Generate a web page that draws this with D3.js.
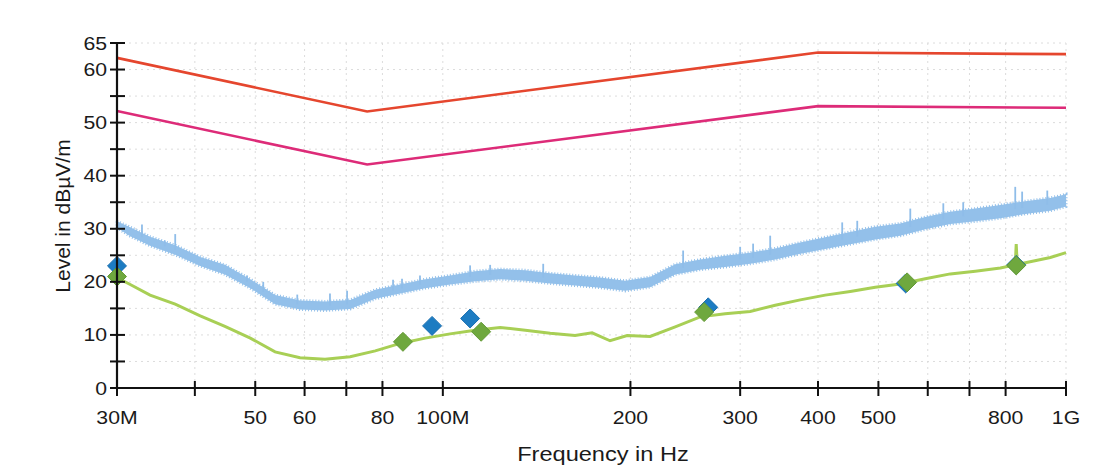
<!DOCTYPE html>
<html>
<head>
<meta charset="utf-8">
<script src="https://cdn.jsdelivr.net/npm/d3@7"></script>
<style>
    body { margin: 0; background: #fff; }
    svg { display: block; }
    text { font-family: Arial, "Liberation Sans", sans-serif; fill: #1a1a1a; }
</style>
</head>
<body>
<svg id="chart" width="1096" height="470"></svg>
<script>

// limit lines (MHz, dB)
const limitFreq = [30, 75.6, 400, 1000]
const limitPeak = [62.2, 52.1, 63.2, 62.9]
const limitAvg = [52.2, 42.1, 53.1, 52.8]

// peak trace, read as a band
const blueFreq = [30, 31.5, 33.9, 37.2, 40.8, 44.7, 49.1, 53.8, 59.0, 64.7, 71.0, 77.9, 85.4, 93.7, 102.7, 112.7, 123.6, 135.6, 148.7, 163,
    178.8, 196.1, 215.1, 236, 258.8, 283.8, 311.3, 341.5, 374.6, 410.8, 450.6, 494.2, 542, 594.5, 652.1, 715.3, 784.6, 860.5, 943.8, 1000]
const blueLow = [30.2, 28.6, 26.8, 25.1, 23.0, 21.4, 18.8, 15.8, 14.8, 14.6, 14.9, 16.8, 17.8, 18.8, 19.5, 20.1, 20.5, 20.2, 19.7, 19.3,
    18.9, 18.3, 19.0, 21.4, 22.3, 22.8, 23.4, 24.2, 25.3, 26.2, 27.1, 28.0, 28.7, 29.9, 30.9, 31.4, 32.0, 32.8, 33.4, 34.2]
const blueHigh = [31.4, 30.3, 28.5, 26.9, 24.7, 23.2, 20.5, 17.5, 16.5, 16.3, 16.6, 18.5, 19.5, 20.5, 21.2, 22.0, 22.4, 22.2, 21.6, 21.2,
    20.8, 20.2, 20.9, 23.3, 24.2, 24.9, 25.5, 26.3, 27.4, 28.4, 29.4, 30.4, 31.0, 32.2, 33.2, 33.8, 34.5, 35.2, 35.8, 36.5]

// single spikes sticking out of the peak band
const spikeFreq = [32.9, 35.8, 37.2, 48.5, 51.5, 58.4, 65.9, 70.2, 83.2, 86.0, 91.9, 110.6, 119.1, 144.9,
    243, 300, 314.7, 335.2, 437.4, 462.4, 562.5, 635.5, 684, 829, 850.4, 933.2]
const spikeTop = [30.8, 27.8, 29.0, 21.2, 20.0, 17.6, 17.8, 18.3, 20.4, 20.6, 21.2, 23.1, 23.2, 23.4,
    25.9, 26.6, 27.2, 28.7, 31.2, 31.5, 33.8, 34.8, 35.0, 37.9, 37.0, 37.2]

// average trace
const greenFreq = [30, 31.5, 33.9, 37.2, 40.8, 44.7, 49.1, 53.8, 59.0, 64.7, 71.0, 77.9, 85.4, 93.7, 102.7, 112.7, 123.6, 135.6, 148.7, 163,
    173.6, 185.5, 197.6, 215.1, 236, 258.8, 283.8, 311.3, 341.5, 374.6, 410.8, 450.6, 494.2, 542, 594.5, 652.1, 715.3, 784.6,
    829, 832, 835, 860.5, 943.8, 1000]
const greenLevel = [20.8, 19.5, 17.5, 15.8, 13.6, 11.6, 9.4, 6.8, 5.7, 5.4, 5.9, 7.0, 8.4, 9.4, 10.2, 10.9, 11.4, 10.9, 10.3, 9.9,
    10.4, 8.9, 9.9, 9.7, 11.5, 13.4, 14.0, 14.4, 15.6, 16.6, 17.5, 18.2, 19.0, 19.6, 20.6, 21.5, 22.0, 22.6,
    23.2, 27.1, 23.3, 23.6, 24.6, 25.5]

// final measurements
const qpFreq = [30, 96.1, 110.6, 266.6, 553, 832]
const qpLevel = [23.0, 11.7, 13.1, 15.2, 19.7, 23.2]
const avFreq = [30, 86.3, 115.2, 262.6, 556, 832]
const avLevel = [21.0, 8.7, 10.6, 14.3, 19.9, 23.1]

const xTicks = [30, 40, 50, 60, 70, 80, 100, 200, 300, 400, 500, 600, 700, 800, 1000]
const xLabels = {30: '30M', 50: '50', 60: '60', 80: '80', 100: '100M', 200: '200', 300: '300', 400: '400', 500: '500', 800: '800', 1000: '1G'}
const yTicks = [0, 5, 10, 15, 20, 25, 30, 35, 40, 45, 50, 55, 60, 65]
const yLabels = [0, 10, 20, 30, 40, 50, 60, 65]


const svg = d3.select('#chart')

const x = d3.scaleLog()
    .domain([30, 1000])
    .range([117, 1066])

const y = d3.scaleLinear()
    .domain([0, 65])
    .range([388, 43])

const zip = (xs, ys) => xs.map((v, i) => [v, ys[i]])

const label = (g, px, py, txt, anchor, size) =>
    g.append('text')
        .attr('transform', `translate(${px},${py}) scale(1.18,1)`)
        .attr('text-anchor', anchor)
        .style('font-size', size + 'px')
        .text(txt)


// faint grid
const grid = svg.append('g')
    .attr('stroke', '#dcdcdc')
    .attr('stroke-width', 1)
    .attr('stroke-dasharray', '2,4')

grid.selectAll('.gx')
    .data(xTicks.slice(1))
    .join('line')
    .attr('x1', d => x(d)).attr('x2', d => x(d))
    .attr('y1', y(65)).attr('y2', y(0))

grid.selectAll('.gy')
    .data(yTicks.slice(1))
    .join('line')
    .attr('x1', x(30)).attr('x2', x(1000))
    .attr('y1', d => y(d)).attr('y2', d => y(d))


const line = d3.line()
    .x(d => x(d[0]))
    .y(d => y(d[1]))

// peak band
const band = d3.area()
    .x(d => x(d[0]))
    .y0(d => y(d[1]))
    .y1(d => y(d[2]))

svg.append('path')
    .datum(blueFreq.map((f, i) => [f, blueLow[i], blueHigh[i]]))
    .attr('d', band)
    .attr('fill', '#93c0ea')
    .attr('stroke', '#93c0ea')
    .attr('stroke-width', 3)
    .attr('stroke-dasharray', '1,2')

const bandMid = d3.scaleLog()
    .domain(blueFreq)
    .range(blueFreq.map((f, i) => (blueLow[i] + blueHigh[i]) / 2))

svg.append('g')
    .selectAll('line')
    .data(zip(spikeFreq, spikeTop))
    .join('line')
    .attr('x1', d => x(d[0])).attr('x2', d => x(d[0]))
    .attr('y1', d => y(bandMid(d[0]))).attr('y2', d => y(d[1]))
    .attr('stroke', '#8fbde9')
    .attr('stroke-width', 1.8)

// average trace
svg.append('path')
    .datum(zip(greenFreq, greenLevel))
    .attr('d', line)
    .attr('fill', 'none')
    .attr('stroke', '#a8cf55')
    .attr('stroke-width', 3)

// limits
svg.append('path')
    .datum(zip(limitFreq, limitPeak))
    .attr('d', line)
    .attr('fill', 'none')
    .attr('stroke', '#e5462e')
    .attr('stroke-width', 2.6)

svg.append('path')
    .datum(zip(limitFreq, limitAvg))
    .attr('d', line)
    .attr('fill', 'none')
    .attr('stroke', '#dd2b78')
    .attr('stroke-width', 2.6)


// markers
const diamond = d3.symbol().type(d3.symbolDiamond2).size(230)

const drawMarkers = (data, fill, stroke) =>
    svg.append('g')
        .selectAll('path')
        .data(data)
        .join('path')
        .attr('d', diamond)
        .attr('transform', d => `translate(${x(d[0])},${y(d[1])})`)
        .attr('fill', fill)
        .attr('stroke', stroke)
        .attr('stroke-width', 1)

drawMarkers(zip(qpFreq, qpLevel), '#1d7cc2', '#1a6fb0')
drawMarkers(zip(avFreq, avLevel), '#6fa83e', '#649a36')


// axes
const axes = svg.append('g')
    .attr('stroke', '#111')

axes.append('line')
    .attr('x1', x(30)).attr('x2', x(30))
    .attr('y1', y(65)).attr('y2', y(0))
    .attr('stroke-width', 2.2)

axes.append('line')
    .attr('x1', x(30)).attr('x2', x(1000))
    .attr('y1', y(0)).attr('y2', y(0))
    .attr('stroke-width', 2.2)

axes.selectAll('.ty')
    .data(yTicks)
    .join('line')
    .attr('x1', x(30) - 7).attr('x2', x(30) + 8)
    .attr('y1', d => y(d)).attr('y2', d => y(d))
    .attr('stroke-width', 2)

axes.selectAll('.tx')
    .data(xTicks)
    .join('line')
    .attr('x1', d => x(d)).attr('x2', d => x(d))
    .attr('y1', y(0) - 7).attr('y2', y(0) + 8)
    .attr('stroke-width', 2)

const labels = svg.append('g')

yLabels.forEach(v => label(labels, 107, y(v) + 6.5, String(v), 'end', 18))
xTicks.filter(v => xLabels[v]).forEach(v => label(labels, x(v), 424, xLabels[v], 'middle', 18))

label(labels, 603, 461, 'Frequency in Hz', 'middle', 20)

labels.append('text')
    .attr('transform', 'translate(70,216) rotate(-90)')
    .attr('text-anchor', 'middle')
    .style('font-size', '21px')
    .text('Level in dBµV/m')

</script>
</body>
</html>
